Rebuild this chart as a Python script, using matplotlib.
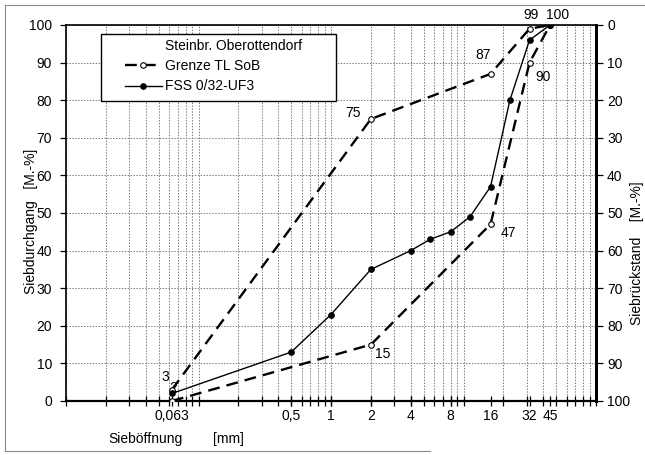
import matplotlib
matplotlib.use("Agg")
import matplotlib.pyplot as plt
from matplotlib.lines import Line2D
from matplotlib.patches import Rectangle
from matplotlib.ticker import FixedLocator, FixedFormatter, LogLocator, NullFormatter

plt.rcParams['font.family'] = ['Liberation Sans', 'DejaVu Sans']
plt.rcParams['font.size'] = 10

# sieve analysis data
sieve_fss = [0.063, 0.5, 1, 2, 4, 5.6, 8, 11.2, 16, 22.4, 31.5, 45]
passing_fss = [2, 13, 23, 35, 40, 43, 45, 49, 57, 80, 96, 100]

sieve_limit = [0.063, 2, 16, 31.5, 45]
upper_limit = [3, 75, 87, 99, 100]
lower_limit = [0, 15, 47, 90, 100]

tick_sizes = [0.063, 0.5, 1, 2, 4, 8, 16, 31.5, 45]
tick_labels = ["0,063", "0,5", "1", "2", "4", "8", "16", "32", "45"]

W, H = 645, 455
fig = plt.figure(figsize=(W / 100, H / 100), dpi=100)
L, R, T, B = 66, 596, 25, 401
ax = fig.add_axes([L / W, 1 - B / H, (R - L) / W, (B - T) / H])

ax.set_xscale('log')
ax.set_xlim(0.01, 100)
ax.set_ylim(0, 100)

# limit curves and measured grading
dash = (0, (5, 3))
ax.plot(sieve_limit, upper_limit, color='black', lw=1.7, linestyle=dash,
        marker='o', ms=4, mfc='white', mec='black', mew=0.8, zorder=3)
ax.plot(sieve_limit, lower_limit, color='black', lw=1.7, linestyle=dash,
        marker='o', ms=4, mfc='white', mec='black', mew=0.8, zorder=3)
ax.plot(sieve_fss, passing_fss, color='black', lw=1.0, linestyle='-',
        marker='o', ms=3.8, mfc='black', mec='black', zorder=4)

# value labels (offsets in pixels)
upper_offsets = [(-7, 13), (-18, 6), (-7, 19), (1, 14), (8, 10)]
for xv, yv, off in zip(sieve_limit, upper_limit, upper_offsets):
    ax.annotate(str(yv), (xv, yv), xytext=off, textcoords='offset pixels',
                ha='center', va='center', fontsize=10, zorder=6,
                annotation_clip=False)
lower_offsets = {1: (12, -9), 2: (18, -9), 3: (14, -14)}
for i, off in lower_offsets.items():
    ax.annotate(str(lower_limit[i]), (sieve_limit[i], lower_limit[i]),
                xytext=off, textcoords='offset pixels',
                ha='center', va='center', fontsize=10, zorder=6)
ax.annotate(str(passing_fss[0]), (sieve_fss[0], passing_fss[0]),
            xytext=(1, 5), textcoords='offset pixels',
            ha='center', va='center', fontsize=10, zorder=2)

# axes, ticks and grid
ax.xaxis.set_major_locator(FixedLocator(tick_sizes))
ax.xaxis.set_major_formatter(FixedFormatter(tick_labels))
ax.xaxis.set_minor_locator(LogLocator(base=10, subs=range(1, 10), numticks=50))
ax.xaxis.set_minor_formatter(NullFormatter())
ax.xaxis.remove_overlapping_locs = False
ax.set_yticks(range(0, 101, 10))

ax.tick_params(axis='x', which='both', direction='inout', length=7, width=0.9,
               pad=2, labelsize=10)
ax.tick_params(axis='y', which='major', direction='out', length=4, width=0.9,
               pad=6, labelsize=10)

grid_style = dict(color='#7d7d7d', lw=0.7, linestyle=(0, (1.5, 1.5)))
ax.grid(axis='x', which='minor', **grid_style)
ax.grid(axis='x', which='major', visible=False)
ax.grid(axis='y', which='major', **grid_style)
ax.set_axisbelow(True)

for side in ['left', 'top']:
    ax.spines[side].set_linewidth(1.2)
ax.spines['bottom'].set_linewidth(1.6)
ax.spines['right'].set_linewidth(2.0)

sec = ax.secondary_yaxis('right', functions=(lambda v: 100 - v, lambda v: 100 - v))
sec.set_yticks(range(0, 101, 10))
sec.tick_params(direction='out', length=5, width=0.9, pad=3, labelsize=10)
sec.spines['right'].set_linewidth(2.0)

# axis titles
fig.text(31 / W, 1 - 221 / H, "Siebdurchgang   [M.-%]", rotation=90,
         ha='center', va='center', fontsize=10)
fig.text(637 / W, 1 - 253 / H, "Siebrückstand    [M.-%]", rotation=90,
         ha='center', va='center', fontsize=10)
fig.text(108 / W, 1 - 439 / H, "Sieböffnung", ha='left', va='center', fontsize=10)
fig.text(213 / W, 1 - 439 / H, "[mm]", ha='left', va='center', fontsize=10)

# legend box and entries
fig.patches.append(Rectangle((101 / W, 1 - 101 / H), (336 - 101) / W, (101 - 34) / H,
                             transform=fig.transFigure, facecolor='white',
                             edgecolor='black', lw=1.0, zorder=4))
handles = [
    Line2D([], [], color='none', label='Steinbr. Oberottendorf'),
    Line2D([], [], color='black', lw=1.7, linestyle=dash, marker='o', ms=4,
           mfc='white', mec='black', mew=0.8, label='Grenze TL SoB'),
    Line2D([], [], color='black', lw=1.0, marker='o', ms=3.8, mfc='black',
           label='FSS 0/32-UF3'),
]
leg = fig.legend(handles=handles, loc='upper left',
                 bbox_to_anchor=(125 / W, 1 - 39 / H), bbox_transform=fig.transFigure,
                 frameon=False, borderpad=0, borderaxespad=0, handlelength=2.65,
                 handletextpad=0.2, labelspacing=0.45, numpoints=1, fontsize=10)
leg.set_zorder(5)

# outer frame
frame_kw = dict(color='#8a8a8a', lw=0.8, transform=fig.transFigure)
fig.lines.append(Line2D([5 / W, 5 / W], [1 - 5 / H, 1 - 451 / H], **frame_kw))
fig.lines.append(Line2D([5 / W, 1.0], [1 - 5 / H, 1 - 5 / H], **frame_kw))
fig.lines.append(Line2D([5 / W, 430 / W], [1 - 451 / H, 1 - 451 / H], **frame_kw))

fig.savefig("out.png", dpi=100)
